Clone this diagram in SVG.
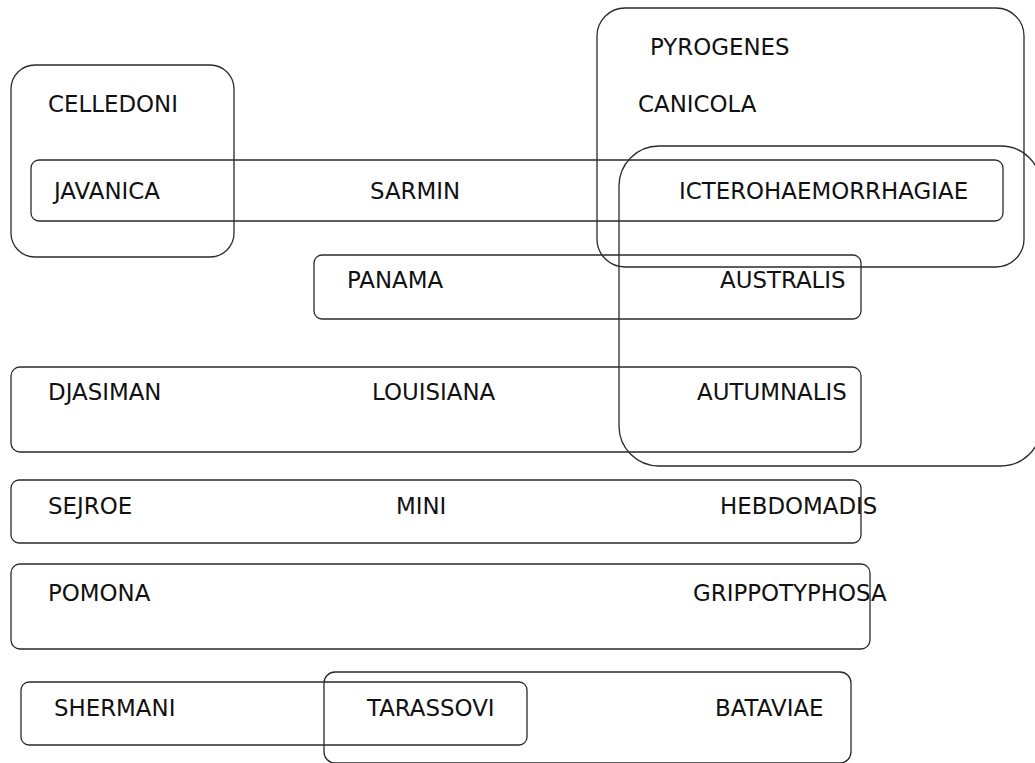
<svg xmlns="http://www.w3.org/2000/svg" width="1035" height="763" viewBox="0 0 1035 763">
<style>
  .box { fill: none; stroke: #2a2a2a; stroke-width: 1.3; }
  .lbl { font-family: "DejaVu Sans", Verdana, sans-serif; font-size: 22.9px; fill: #111; }
</style>
<rect x="0" y="0" width="1035" height="763" fill="#ffffff"/>
<g id="connectors"></g>
<g id="group-celledoni">
  <rect class="box" x="11" y="65" width="223" height="192" rx="24" ry="24"/>
  <text class="lbl" x="48" y="112">CELLEDONI</text>
</g>
<g id="group-pyrogenes">
  <rect class="box" x="597" y="8" width="427" height="259" rx="28" ry="28"/>
  <text class="lbl" x="650" y="55">PYROGENES</text>
  <text class="lbl" x="638" y="112">CANICOLA</text>
</g>
<g id="group-javanica">
  <rect class="box" x="31" y="160" width="972" height="61" rx="8" ry="8"/>
  <text class="lbl" x="54" y="199">JAVANICA</text>
  <text class="lbl" x="370" y="199">SARMIN</text>
  <text class="lbl" x="679" y="199">ICTEROHAEMORRHAGIAE</text>
</g>
<g id="group-australis">
  <rect class="box" x="619" y="146" width="422" height="320" rx="40" ry="40"/>
</g>
<g id="group-panama">
  <rect class="box" x="314" y="255" width="547" height="64" rx="8" ry="8"/>
  <text class="lbl" x="347" y="288">PANAMA</text>
  <text class="lbl" x="720" y="288">AUSTRALIS</text>
</g>
<g id="group-djasiman">
  <rect class="box" x="11" y="367" width="850" height="85" rx="9" ry="9"/>
  <text class="lbl" x="48" y="400">DJASIMAN</text>
  <text class="lbl" x="372" y="400">LOUISIANA</text>
  <text class="lbl" x="697" y="400">AUTUMNALIS</text>
</g>
<g id="group-sejroe">
  <rect class="box" x="11" y="480" width="850" height="63" rx="8" ry="8"/>
  <text class="lbl" x="48" y="514">SEJROE</text>
  <text class="lbl" x="396" y="514">MINI</text>
  <text class="lbl" x="720" y="514">HEBDOMADIS</text>
</g>
<g id="group-pomona">
  <rect class="box" x="11" y="564" width="859" height="85" rx="9" ry="9"/>
  <text class="lbl" x="48" y="601">POMONA</text>
  <text class="lbl" x="693" y="601">GRIPPOTYPHOSA</text>
</g>
<g id="group-shermani">
  <rect class="box" x="21" y="682" width="506" height="63" rx="8" ry="8"/>
  <text class="lbl" x="54" y="716">SHERMANI</text>
</g>
<g id="group-tarassovi">
  <rect class="box" x="324" y="672" width="527" height="91" rx="11" ry="11"/>
  <text class="lbl" x="367" y="716">TARASSOVI</text>
  <text class="lbl" x="715" y="716">BATAVIAE</text>
</g>
</svg>
